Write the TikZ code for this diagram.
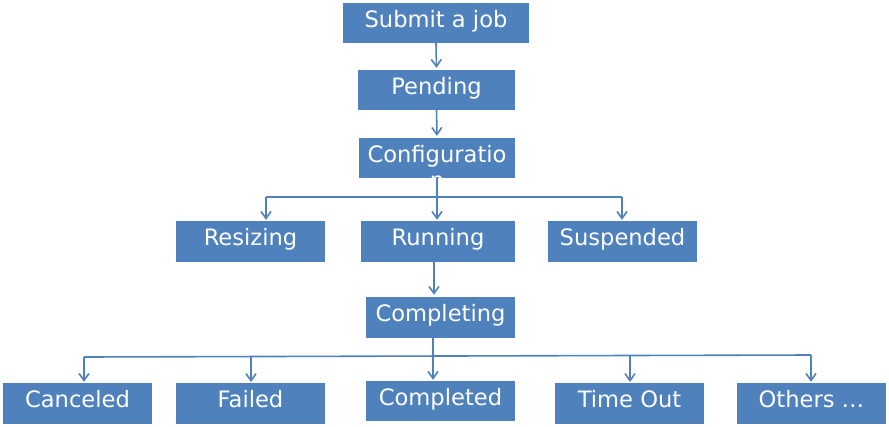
\documentclass[tikz,border=0pt]{standalone}
\usepackage{fontspec}
\setmainfont{DejaVu Sans}
\usetikzlibrary{arrows.meta}
\definecolor{boxblue}{RGB}{79,129,189}

\begin{document}
\begin{tikzpicture}[x=1pt,y=-1pt,>={Straight Barb[length=7pt,width=10pt]},
  state/.style={fill=boxblue,text=white,inner sep=0pt,minimum width=149pt,
    text height=24pt,text depth=17pt,font=\fontsize{22.6}{26}\selectfont},
  flow/.style={boxblue,line width=1.6pt}]
\useasboundingbox (0,0) rectangle (889,426);
% states
\node[state,minimum width=186pt,text depth=16pt] (submit) at (436,23) {Submit a job};
\node[state,minimum width=157pt,text depth=16pt] (pending) at (436.5,90) {Pending};
\node[state,minimum width=156pt,text depth=16pt] (config) at (437,158) {Configuratio};
\node[state] (resizing) at (250.5,241.5) {Resizing};
\node[state,minimum width=154pt] (running) at (438,241.5) {Running};
\node[state] (suspended) at (622.5,241.5) {Suspended};
\node[state] (completing) at (440.5,317.5) {Completing};
\node[state] (canceled) at (77.5,403.5) {Canceled};
\node[state] (failed) at (250.5,403.5) {Failed};
\node[state,text depth=16pt] (completed) at (440.5,401) {Completed};
\node[state] (timeout) at (629.5,403.5) {Time Out};
\node[state] (others) at (811.5,403.5) {Others …};
% first steps
\draw[flow,->] (submit.south) -- ([yshift=2pt]pending.north);
\draw[flow,->] (pending.south) -- ([yshift=2pt]config.north);
% split after configuration
\coordinate (split) at (437,197);
\coordinate (busleft) at (266,197);
\coordinate (busright) at (622,197);
\draw[flow] (config.south) -- (split);
\draw[flow] (busleft) -- (busright);
\draw[flow,->] (busleft) -- ([yshift=1pt]busleft |- resizing.north);
\draw[flow,->] (split) -- ([yshift=1pt]split |- running.north);
\draw[flow,->] (busright) -- ([yshift=1pt]busright |- suspended.north);
% running to completing
\draw[flow,->] ([xshift=-4pt]running.south) -- ([xshift=-6.5pt,yshift=2pt]completing.north);
% split after completing
\coordinate (endsplit) at (433,356);
\coordinate (endleft) at (84,357);
\coordinate (endright) at (811,355);
\draw[flow] ([xshift=-7.5pt]completing.south) -- (endsplit);
\draw[flow] (endleft) -- (endright);
\draw[flow,->] (endleft) -- ([yshift=1pt]endleft |- canceled.north);
\draw[flow,->] (251,356.5) -- (251,382);
\draw[flow,->] (endsplit) -- ([yshift=1pt]endsplit |- completed.north);
\draw[flow,->] (630,355.3) -- (630,382);
\draw[flow,->] (endright) -- ([yshift=1pt]endright |- others.north);
% wrapped last letter
\node[text=white,inner sep=0pt,anchor=base,font=\fontsize{22.6}{26}\selectfont] (configrest) at ([yshift=-26pt]config.base) {n};
\end{tikzpicture}
\end{document}
